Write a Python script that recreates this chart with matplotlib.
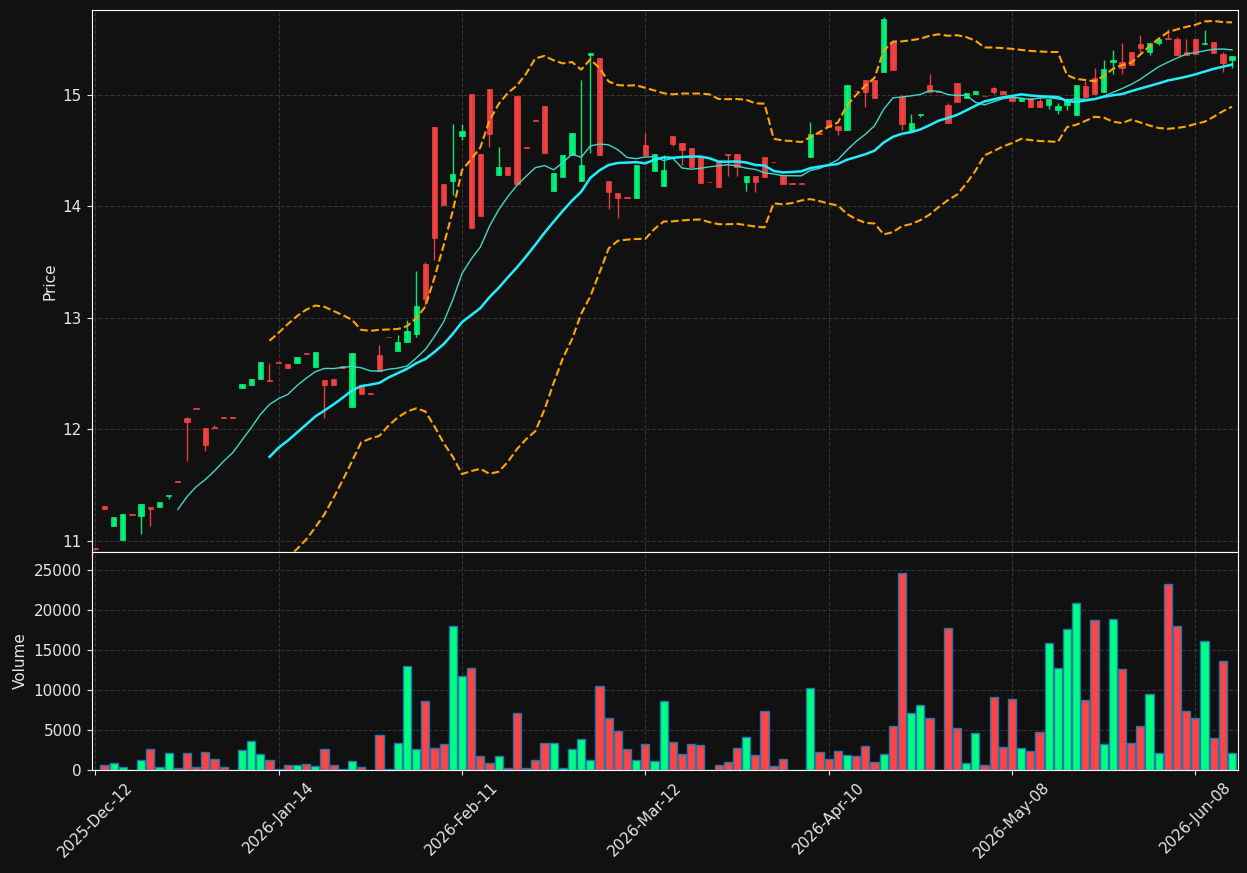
import numpy as np
import pandas as pd
import matplotlib
matplotlib.use("Agg")
import matplotlib.pyplot as plt

# --- data (one entry per trading day) ---
tick_labels = ["2025-Dec-12", "2026-Jan-14", "2026-Feb-11", "2026-Mar-12",
               "2026-Apr-10", "2026-May-08", "2026-Jun-08"]

opens = [10.94, 11.31, 11.13, 11.01, 11.245, 11.22, 11.30, 11.30, 11.40, 11.54,
         12.10, 12.195, 12.01, 12.025, 12.115, 12.115, 12.37, 12.40, 12.45, 12.445,
         12.605, 12.587, 12.60, 12.688, 12.56, 12.44, 12.45, 12.565, 12.205, 12.40,
         12.33, 12.665, 12.83, 12.70, 12.78, 12.86, 13.48, 14.71, 14.20, 14.23,
         14.63, 15.01, 14.47, 15.05, 14.285, 14.354, 14.99, 14.535, 14.775, 14.90,
         14.14, 14.265, 14.465, 14.23, 15.36, 15.33, 14.23, 14.12, 14.085, 14.08,
         14.55, 14.32, 14.18, 14.63, 14.57, 14.525, 14.45, 14.222, 14.40, 14.47,
         14.47, 14.22, 14.27, 14.44, 14.40, 14.27, 14.21, 14.21, 14.44, 14.655,
         14.78, 14.72, 14.69, 15.04, 15.13, 15.135, 15.21, 15.475, 14.985, 14.68,
         14.82, 15.09, 15.035, 14.91, 15.11, 14.97, 15.01, 14.995, 15.06, 15.04,
         14.98, 14.95, 14.97, 14.95, 14.91, 14.865, 14.91, 14.82, 15.08, 15.15,
         15.03, 15.30, 15.30, 15.39, 15.46, 15.39, 15.47, 15.51, 15.50, 15.39,
         15.50, 15.455, 15.475, 15.37, 15.31]

highs = [10.94, 11.31, 11.215, 11.24, 11.245, 11.33, 11.30, 11.35, 11.41, 11.54,
         12.11, 12.195, 12.01, 12.04, 12.115, 12.115, 12.41, 12.45, 12.605, 12.60,
         12.605, 12.587, 12.65, 12.688, 12.69, 12.44, 12.45, 12.565, 12.686, 12.40,
         12.33, 12.76, 12.83, 12.845, 12.98, 13.42, 13.50, 14.71, 14.20, 14.74,
         14.74, 15.01, 14.47, 15.05, 14.53, 14.354, 14.99, 14.535, 14.775, 14.90,
         14.30, 14.46, 14.66, 15.13, 15.375, 15.33, 14.23, 14.12, 14.085, 14.37,
         14.66, 14.47, 14.46, 14.63, 14.57, 14.525, 14.45, 14.222, 14.40, 14.47,
         14.47, 14.27, 14.27, 14.44, 14.40, 14.27, 14.21, 14.21, 14.76, 14.655,
         14.78, 14.72, 15.09, 15.04, 15.13, 15.135, 15.70, 15.475, 15.00, 14.83,
         14.83, 15.19, 15.035, 14.93, 15.11, 15.015, 15.036, 14.995, 15.07, 15.04,
         14.98, 14.97, 14.97, 14.97, 14.967, 14.925, 14.97, 15.09, 15.126, 15.24,
         15.31, 15.40, 15.47, 15.39, 15.54, 15.47, 15.50, 15.595, 15.52, 15.50,
         15.50, 15.58, 15.475, 15.39, 15.35]

lows = [10.93, 11.29, 11.13, 11.01, 11.235, 11.06, 11.13, 11.30, 11.375, 11.53,
        11.72, 12.185, 11.81, 12.015, 12.105, 12.105, 12.37, 12.40, 12.45, 12.435,
        12.595, 12.555, 12.60, 12.678, 12.56, 12.10, 12.40, 12.555, 12.205, 12.32,
        12.32, 12.52, 12.825, 12.70, 12.78, 12.83, 13.12, 13.52, 14.01, 14.10,
        14.60, 13.81, 13.91, 14.53, 14.285, 14.285, 14.20, 14.525, 14.77, 14.48,
        14.14, 14.265, 14.465, 14.23, 14.48, 14.46, 13.98, 13.90, 14.08, 14.08,
        14.46, 14.32, 14.18, 14.54, 14.37, 14.354, 14.21, 14.215, 14.17, 14.27,
        14.27, 14.14, 14.13, 14.26, 14.395, 14.205, 14.205, 14.205, 14.44, 14.65,
        14.71, 14.64, 14.69, 15.035, 14.89, 14.976, 15.21, 15.224, 14.69, 14.68,
        14.80, 15.03, 15.03, 14.75, 14.94, 14.97, 15.01, 14.99, 15.01, 15.01,
        14.95, 14.95, 14.895, 14.895, 14.87, 14.83, 14.865, 14.82, 14.985, 15.01,
        15.03, 15.185, 15.185, 15.27, 15.39, 15.36, 15.45, 15.50, 15.36, 15.36,
        15.37, 15.455, 15.38, 15.21, 15.24]

closes = [10.93, 11.29, 11.215, 11.24, 11.235, 11.33, 11.29, 11.35, 11.41, 11.53,
          12.07, 12.185, 11.86, 12.015, 12.105, 12.105, 12.41, 12.45, 12.605, 12.435,
          12.595, 12.555, 12.65, 12.678, 12.69, 12.40, 12.40, 12.555, 12.686, 12.32,
          12.32, 12.52, 12.825, 12.78, 12.88, 13.11, 13.17, 13.72, 14.01, 14.29,
          14.68, 13.81, 13.91, 14.65, 14.354, 14.285, 14.20, 14.525, 14.77, 14.48,
          14.30, 14.46, 14.66, 14.37, 15.375, 14.46, 14.13, 14.08, 14.08, 14.37,
          14.46, 14.47, 14.33, 14.56, 14.51, 14.354, 14.21, 14.215, 14.17, 14.465,
          14.35, 14.27, 14.22, 14.26, 14.395, 14.205, 14.205, 14.205, 14.65, 14.65,
          14.71, 14.69, 15.09, 15.035, 15.03, 14.976, 15.68, 15.224, 14.74, 14.75,
          14.83, 15.03, 15.03, 14.75, 14.94, 15.015, 15.036, 14.99, 15.03, 15.01,
          14.95, 14.97, 14.895, 14.895, 14.967, 14.90, 14.95, 15.09, 14.985, 15.01,
          15.23, 15.31, 15.24, 15.27, 15.425, 15.47, 15.50, 15.50, 15.36, 15.36,
          15.37, 15.47, 15.38, 15.29, 15.35]

volumes = [0, 583, 833, 333, 50, 1208, 2667, 417, 2083, 292,
           2083, 417, 2208, 1417, 417, 0, 2458, 3583, 1958, 1208,
           167, 583, 583, 708, 458, 2583, 583, 83, 1083, 333,
           0, 4333, 167, 3333, 12958, 2583, 8583, 2708, 3208, 17958,
           11708, 12708, 1708, 833, 1708, 208, 7083, 292, 1208, 3333,
           3333, 292, 2667, 3833, 1292, 10458, 6458, 4833, 2583, 1208,
           3208, 1083, 8583, 3458, 1958, 3208, 3083, 0, 583, 958,
           2708, 4083, 1833, 7333, 458, 1333, 0, 0, 10208, 2208,
           1333, 2333, 1833, 1708, 2958, 958, 1958, 5458, 24583, 7083,
           8083, 6458, 0, 17708, 5208, 833, 4583, 583, 9083, 2833,
           8833, 2708, 2333, 4708, 15833, 12708, 17583, 20833, 8708, 18708,
           3208, 18833, 12583, 3333, 5458, 9458, 2083, 23208, 17958, 7333,
           6458, 16083, 3958, 13583, 2083]

df = pd.DataFrame({"Open": opens, "High": highs, "Low": lows,
                   "Close": closes, "Volume": volumes})
assert len(df) == 125

BG = "#111111"
UP = "#00ff7f"
DOWN = "#ff4444"
TXT = "#e6e6e6"

x = np.arange(len(df))
up = df["Close"] >= df["Open"]
cols = np.where(up, UP, DOWN)

ma10 = df["Close"].rolling(10).mean()
ma20 = df["Close"].rolling(20).mean()
sd20 = df["Close"].rolling(20).std()
bb_up = ma20 + 2 * sd20
bb_lo = ma20 - 2 * sd20

fig = plt.figure(figsize=(12.47, 8.73), dpi=100, facecolor=BG)
ax = fig.add_axes([0.0735, 0.3677, 0.9189, 0.6208], facecolor=BG)
axv = fig.add_axes([0.0735, 0.1180, 0.9189, 0.2497], facecolor=BG, sharex=ax)

# candles
ax.vlines(x, df["Low"], df["High"], colors=cols, linewidth=1, alpha=0.9, zorder=2)
body_lo = np.minimum(df["Open"], df["Close"])
body_h = (df["Open"] - df["Close"]).abs()
ax.bar(x, body_h, bottom=body_lo, width=0.58, color=cols, edgecolor=cols,
       linewidth=0.5, alpha=0.9, zorder=3)

ax.plot(x, ma10, color="#40d8c8", linewidth=1.0, zorder=4)
ax.plot(x, ma20, color="#22eeff", linewidth=1.8, zorder=4)
ax.plot(x, bb_up, color="orange", linestyle="--", linewidth=1.5, zorder=4)
ax.plot(x, bb_lo, color="orange", linestyle="--", linewidth=1.5, zorder=4)

ax.set_ylim(10.90, 15.762)
ax.set_ylabel("Price", color=TXT, fontsize=11)

# volume
axv.bar(x, df["Volume"], width=0.9, color=cols, edgecolor="#1f77b4", linewidth=1)
axv.set_ylim(0, 27250)
axv.set_yticks(range(0, 25001, 5000))
axv.set_ylabel("Volume", color=TXT, fontsize=11)

axv.set_xlim(-0.4, 124.6)
axv.set_xticks(x[::20])
axv.set_xticklabels(tick_labels, rotation=45)
ax.tick_params(labelbottom=False)

for a in (ax, axv):
    a.grid(True, linestyle="--", color="#444444", linewidth=0.8, alpha=0.7)
    a.set_axisbelow(True)
    a.tick_params(colors=TXT, labelsize=11)
    for s in a.spines.values():
        s.set_color("white")

fig.savefig("out.png", dpi=100, facecolor=BG)
